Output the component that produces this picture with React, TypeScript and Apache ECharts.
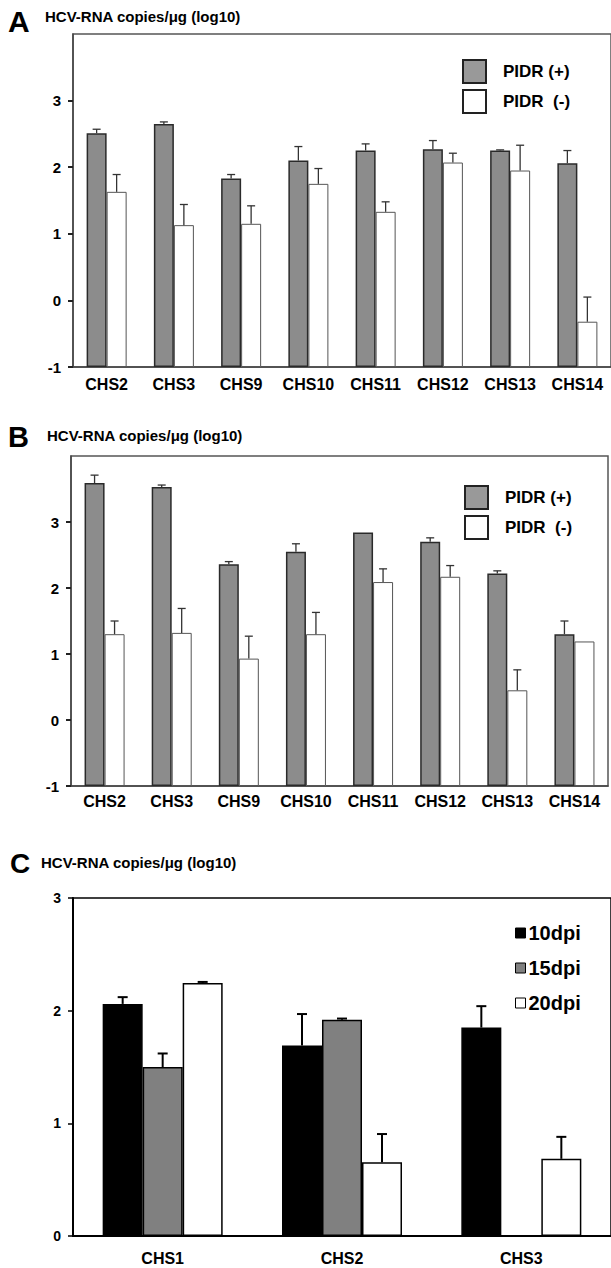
import React, { useEffect, useRef } from "react";
import * as echarts from "echarts";

// ---- Data ----
const catsAB = ["CHS2", "CHS3", "CHS9", "CHS10", "CHS11", "CHS12", "CHS13", "CHS14"];
const yTicksAB = ["-1", "0", "1", "2", "3"];

const aPlus = [2.51, 2.65, 1.83, 2.1, 2.25, 2.27, 2.25, 2.06];
const aPlusErr = [0.06, 0.03, 0.06, 0.21, 0.1, 0.13, 0.01, 0.19];
const aMinus = [1.63, 1.13, 1.15, 1.75, 1.33, 2.07, 1.95, -0.32];
const aMinusErr = [0.26, 0.31, 0.27, 0.23, 0.15, 0.14, 0.38, 0.37];

const bPlus = [3.59, 3.53, 2.36, 2.55, 2.84, 2.7, 2.22, 1.3];
const bPlusErr = [0.12, 0.03, 0.04, 0.12, 0, 0.06, 0.04, 0.2];
const bMinus = [1.3, 1.32, 0.93, 1.3, 2.09, 2.17, 0.45, 1.19];
const bMinusErr = [0.2, 0.37, 0.34, 0.33, 0.2, 0.17, 0.31, 0];

const catsC = ["CHS1", "CHS2", "CHS3"];
const c10 = [2.06, 1.69, 1.85];
const c10Err = [0.06, 0.28, 0.19];
const c15: (number | null)[] = [1.5, 1.92, null];
const c15Err: (number | null)[] = [0.12, 0.01, null];
const c20 = [2.245, 0.655, 0.685];
const c20Err = [0.01, 0.25, 0.195];

const legendAB = ["PIDR (+)", "PIDR  (-)"];
const legendC = ["10dpi", "15dpi", "20dpi"];
const titleText = "HCV-RNA copies/μg (log10)";

const FONT = "'Liberation Sans', Arial, Helvetica, sans-serif";
const SHIFT = 1; // panels A/B bars grow from the axis floor at -1

function errSeries(
  vals: (number | null)[],
  errs: (number | null)[],
  shift: number,
  offset: number,
  axisIdx: number,
  capHalf: number,
  color: string,
  lw: number
) {
  const data: number[][] = [];
  vals.forEach((v, i) => {
    const e = errs[i];
    if (v == null || e == null || e <= 0) return;
    data.push([i, v + shift, v + e + shift]);
  });
  return {
    type: "custom",
    xAxisIndex: axisIdx,
    yAxisIndex: axisIdx,
    z: 5,
    silent: true,
    encode: { x: 0, y: [1, 2] },
    data,
    renderItem: (params: any, api: any) => {
      const idx = api.value(0);
      const base = api.coord([idx, api.value(1)]);
      const top = api.coord([idx, api.value(2)]);
      const x = base[0] + offset;
      return {
        type: "group",
        children: [
          {
            type: "line",
            shape: { x1: x, y1: base[1], x2: x, y2: top[1] },
            style: { stroke: color, lineWidth: lw },
          },
          {
            type: "line",
            shape: { x1: x - capHalf, y1: top[1], x2: x + capHalf, y2: top[1] },
            style: { stroke: color, lineWidth: lw },
          },
        ],
      };
    },
  };
}

function abAxes(idx: number) {
  return {
    x: {
      type: "category",
      gridIndex: idx,
      data: catsAB,
      axisLine: { lineStyle: { color: "#444", width: 1.5 } },
      axisTick: { show: false },
      axisLabel: { color: "#000", fontFamily: FONT, fontWeight: "bold", fontSize: 16, margin: idx === 0 ? 9 : 7 },
    },
    y: {
      type: "value",
      gridIndex: idx,
      min: 0,
      max: 5,
      interval: 1,
      splitLine: { show: false },
      axisLine: { show: true, lineStyle: { color: "#444", width: 1.5 } },
      axisTick: { show: true, length: 5, lineStyle: { color: "#222", width: 2 }, customValues: [0, 1, 2, 3, 4] },
      axisLabel: {
        color: "#000",
        fontFamily: FONT,
        fontWeight: "bold",
        fontSize: 15,
        margin: 12,
        customValues: [0, 1, 2, 3, 4],
        formatter: (v: number) => yTicksAB[Math.round(v)] ?? "",
      },
    },
  };
}

export default function App() {
  const ref = useRef<HTMLDivElement>(null);
  useEffect(() => {
    document.body.style.margin = "0";
    if (!ref.current) return;
    const chart = echarts.init(ref.current, undefined, { renderer: "svg" });
    const A = abAxes(0);
    const B = abAxes(1);

    const grayBar = { color: "#8c8c8c", borderColor: "#2a2a2a", borderWidth: 1.5 };
    const whiteBar = { color: "#ffffff", borderColor: "#555", borderWidth: 1 };

    const option: any = {
      animation: false,
      backgroundColor: "#fff",
      grid: [
        { left: 73, top: 34, width: 540, height: 333, show: true, borderColor: "#555", borderWidth: 1.5, backgroundColor: "transparent" },
        { left: 71, top: 456, width: 537, height: 330, show: true, borderColor: "#555", borderWidth: 1.5, backgroundColor: "transparent" },
        { left: 73, top: 898, width: 540, height: 338, show: true, borderColor: "#000", borderWidth: 1.5, backgroundColor: "transparent" },
      ],
      xAxis: [
        A.x,
        B.x,
        {
          type: "category",
          gridIndex: 2,
          data: catsC,
          axisLine: { lineStyle: { color: "#000", width: 2 } },
          axisTick: { show: false },
          axisLabel: { color: "#000", fontFamily: FONT, fontWeight: "bold", fontSize: 16, margin: 14 },
        },
      ],
      yAxis: [
        A.y,
        B.y,
        {
          type: "value",
          gridIndex: 2,
          min: 0,
          max: 3,
          interval: 1,
          splitLine: { show: false },
          axisLine: { show: true, lineStyle: { color: "#000", width: 2 } },
          axisTick: { show: true, length: 5, lineStyle: { color: "#000", width: 1.5 } },
          axisLabel: { color: "#000", fontFamily: FONT, fontWeight: "bold", fontSize: 14, margin: 12 },
        },
      ],
      legend: [
        {
          left: 457,
          top: 54,
          orient: "vertical",
          itemWidth: 23,
          itemHeight: 23,
          itemGap: 5,
          icon: "rect",
          selectedMode: false,
          textStyle: { color: "#000", fontFamily: FONT, fontWeight: "bold", fontSize: 17, padding: [0, 0, 0, 12] },
          data: [
            { name: legendAB[0], itemStyle: { color: "#999", borderColor: "#222", borderWidth: 2 } },
            { name: legendAB[1], itemStyle: { color: "#fff", borderColor: "#222", borderWidth: 2 } },
          ],
        },
        {
          left: 459,
          top: 480,
          orient: "vertical",
          itemWidth: 23,
          itemHeight: 23,
          itemGap: 5,
          icon: "rect",
          selectedMode: false,
          textStyle: { color: "#000", fontFamily: FONT, fontWeight: "bold", fontSize: 17, padding: [0, 0, 0, 12] },
          data: [
            { name: legendAB[0], itemStyle: { color: "#999", borderColor: "#222", borderWidth: 2 } },
            { name: legendAB[1], itemStyle: { color: "#fff", borderColor: "#222", borderWidth: 2 } },
          ],
        },
        {
          left: 510,
          top: 918,
          orient: "vertical",
          itemWidth: 10,
          itemHeight: 10,
          itemGap: 15,
          icon: "rect",
          selectedMode: false,
          textStyle: { color: "#000", fontFamily: FONT, fontWeight: "bold", fontSize: 20, padding: [0, 0, 0, -2] },
          data: [
            { name: legendC[0], itemStyle: { color: "#000", borderColor: "#000", borderWidth: 1 } },
            { name: legendC[1], itemStyle: { color: "#808080", borderColor: "#000", borderWidth: 1 } },
            { name: legendC[2], itemStyle: { color: "#fff", borderColor: "#000", borderWidth: 1 } },
          ],
        },
      ],
      graphic: [
        { type: "text", x: 8, y: 21, style: { text: "A", font: `bold 30px ${FONT}`, fill: "#000", verticalAlign: "middle" } },
        { type: "text", x: 45, y: 16, style: { text: titleText, font: `bold 15px ${FONT}`, fill: "#000", verticalAlign: "middle" } },
        { type: "text", x: 8, y: 437, style: { text: "B", font: `bold 29px ${FONT}`, fill: "#000", verticalAlign: "middle" } },
        { type: "text", x: 47, y: 435, style: { text: titleText, font: `bold 15px ${FONT}`, fill: "#000", verticalAlign: "middle" } },
        { type: "text", x: 10, y: 863, style: { text: "C", font: `bold 28px ${FONT}`, fill: "#000", verticalAlign: "middle" } },
        { type: "text", x: 41, y: 862, style: { text: titleText, font: `bold 15px ${FONT}`, fill: "#000", verticalAlign: "middle" } },
      ],
      series: [
        { type: "bar", name: legendAB[0], xAxisIndex: 0, yAxisIndex: 0, barWidth: 20, barGap: "0%", itemStyle: grayBar, data: aPlus.map((v) => v + SHIFT) },
        { type: "bar", name: legendAB[1], xAxisIndex: 0, yAxisIndex: 0, barWidth: 20, barGap: "0%", itemStyle: whiteBar, data: aMinus.map((v) => v + SHIFT) },
        { type: "bar", name: legendAB[0], xAxisIndex: 1, yAxisIndex: 1, barWidth: 20, barGap: "0%", itemStyle: grayBar, data: bPlus.map((v) => v + SHIFT) },
        { type: "bar", name: legendAB[1], xAxisIndex: 1, yAxisIndex: 1, barWidth: 20, barGap: "0%", itemStyle: whiteBar, data: bMinus.map((v) => v + SHIFT) },
        { type: "bar", name: legendC[0], xAxisIndex: 2, yAxisIndex: 2, barWidth: 40, barGap: "0%", itemStyle: { color: "#000", borderColor: "#000", borderWidth: 1.5 }, data: c10 },
        { type: "bar", name: legendC[1], xAxisIndex: 2, yAxisIndex: 2, barWidth: 40, barGap: "0%", itemStyle: { color: "#808080", borderColor: "#000", borderWidth: 1.5 }, data: c15.map((v) => (v == null ? "-" : v)) },
        { type: "bar", name: legendC[2], xAxisIndex: 2, yAxisIndex: 2, barWidth: 40, barGap: "0%", itemStyle: { color: "#fff", borderColor: "#000", borderWidth: 1.5 }, data: c20 },
        errSeries(aPlus, aPlusErr, SHIFT, -10, 0, 4, "#333", 1.3),
        errSeries(aMinus, aMinusErr, SHIFT, 10, 0, 4, "#333", 1.3),
        errSeries(bPlus, bPlusErr, SHIFT, -10, 1, 4, "#333", 1.3),
        errSeries(bMinus, bMinusErr, SHIFT, 10, 1, 4, "#333", 1.3),
        errSeries(c10, c10Err, 0, -40, 2, 5, "#000", 2),
        errSeries(c15, c15Err, 0, 0, 2, 5, "#000", 2),
        errSeries(c20, c20Err, 0, 40, 2, 5, "#000", 2),
      ],
    };
    chart.setOption(option);
    return () => chart.dispose();
  }, []);
  return <div ref={ref} style={{ width: 611, height: 1268, position: "absolute", left: 0, top: 0 }} />;
}
